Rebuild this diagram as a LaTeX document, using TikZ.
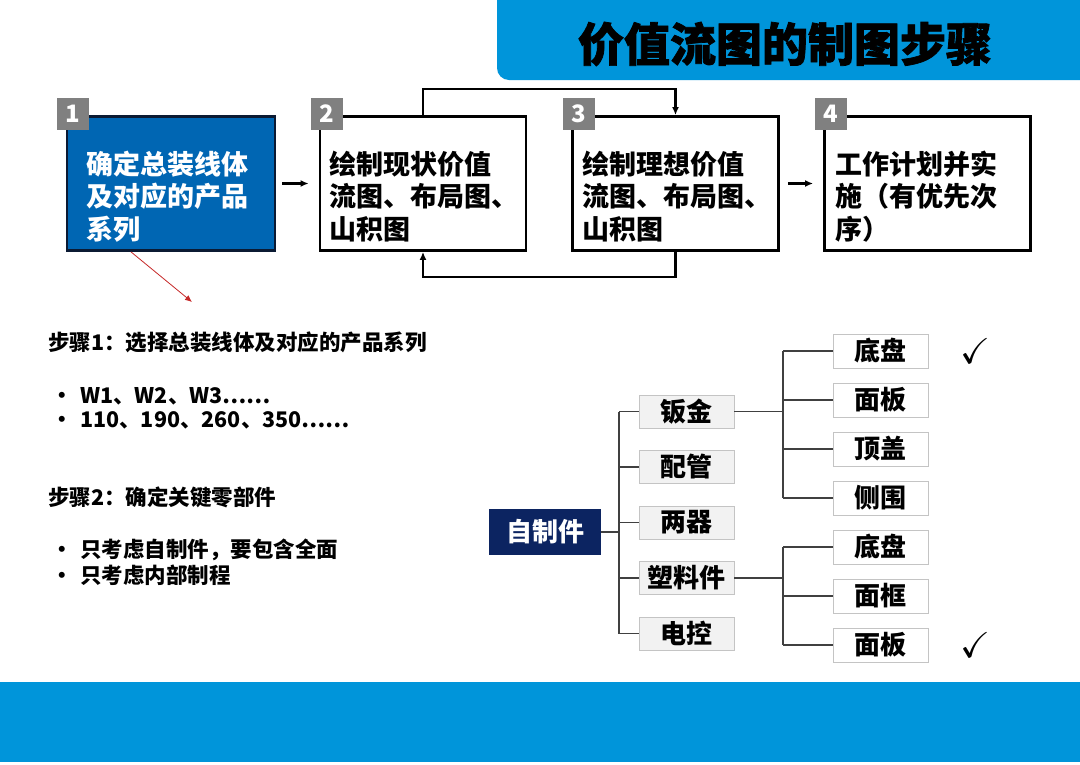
\documentclass[tikz,border=0pt]{standalone}
\usepackage{amssymb}
\usepackage{fontspec}
\setmainfont{Noto Sans CJK SC}
\newfontfamily\titlefont{Noto Sans CJK SC}[BoldFeatures={FakeBold=1.6}]
\usetikzlibrary{positioning,arrows.meta}
\definecolor{bandblue}{HTML}{0095DA}
\definecolor{stepblue}{HTML}{0066B3}
\definecolor{stepnavy}{HTML}{0B1A33}
\definecolor{taggray}{HTML}{808080}
\definecolor{rootnavy}{HTML}{0C2461}
\definecolor{partgray}{HTML}{F2F2F2}
\definecolor{edgegray}{HTML}{C4C4C4}
\definecolor{linkgray}{HTML}{404040}
\definecolor{notered}{HTML}{C62828}

\begin{document}
\begin{tikzpicture}[
    x=1pt, y=-1pt,
    stepbox/.style={rectangle, draw=black, line width=2.8pt, minimum width=206pt,
                    minimum height=134pt, inner sep=0pt},
    steptext/.style={anchor=west, align=left, inner sep=0pt,
                     font=\fontsize{27}{32.5}\selectfont\bfseries},
    steptag/.style={rectangle, fill=taggray, text=white, minimum size=32pt,
                    inner sep=0pt, font=\fontsize{24}{24}\selectfont\bfseries},
    arrow/.style={-{Latex[length=8pt,width=7pt]}, line width=2.7pt},
    notetext/.style={anchor=west, inner sep=0pt, font=\fontsize{21.5}{24}\selectfont\bfseries},
    rootbox/.style={rectangle, fill=rootnavy, text=white, minimum width=112pt,
                    minimum height=46pt, inner sep=0pt, font=\fontsize{26}{26}\selectfont\bfseries},
    partbox/.style={rectangle, draw=edgegray, fill=partgray, line width=0.8pt, minimum width=95pt,
                    minimum height=33pt, inner sep=0pt, font=\fontsize{26}{26}\selectfont\bfseries},
    subbox/.style={partbox, fill=white, minimum height=34pt},
    branch/.style={draw=linkgray, line width=1.4pt},
    checkmark/.style={inner sep=0pt, font=\fontsize{36}{36}\selectfont}
]
\useasboundingbox (0,0) rectangle (1080,764);
\fill[white] (0,0) rectangle (1080,764);

\fill[bandblue] (497,0) -- (497,68) arc[start angle=180, end angle=270, radius=12pt]
    -- (1080,80) -- (1080,0) -- cycle;
\node[font=\titlefont\fontsize{46}{46}\selectfont\bfseries] (title) at (785,44) {价值流图的制图步骤};
\fill[bandblue] (0,682) rectangle (1080,762);

\node[stepbox, fill=stepblue, draw=stepnavy, minimum width=208pt] (s1) at (171,183.5) {};
\node[stepbox] (s2) at (423,183.5) {};
\node[stepbox] (s3) at (675.5,183.5) {};
\node[stepbox] (s4) at (927.5,183.5) {};
\node[steptext, text=white] (l1) at ([shift={(21pt,-13pt)}]s1.west) {确定总装线体\\及对应的产品\\系列};
\node[steptext] (l2) at ([shift={(11pt,-13pt)}]s2.west) {绘制现状价值\\流图、布局图、\\山积图};
\node[steptext] (l3) at ([shift={(11pt,-13pt)}]s3.west) {绘制理想价值\\流图、布局图、\\山积图};
\node[steptext] (l4) at ([shift={(12pt,-13pt)}]s4.west) {工作计划并实\\施（有优先次\\序）};
\node[steptag] (t1) at ([shift={(7pt,1pt)}]s1.north west) {1};
\node[steptag] (t2) at ([shift={(8pt,1pt)}]s2.north west) {2};
\node[steptag] (t3) at ([shift={(8pt,1pt)}]s3.north west) {3};
\node[steptag] (t4) at ([shift={(8pt,1pt)}]s4.north west) {4};

\draw[arrow, shorten <=6pt, shorten >=10pt] (s1) -- (s2);
\draw[arrow, shorten <=8pt, shorten >=10pt] (s3) -- (s4);
\draw[arrow] (s2.north) -- ++(0,-26) -| (s3.north);
\draw[arrow] (s3.south) -- ++(0,25) -| (s2.south);

\coordinate (focus) at (192,302);
\draw[-{Latex[length=7pt,width=6pt]}, draw=notered, line width=0.8pt] ([xshift=-40pt]s1.south) -- (focus);

\node[notetext] (n1) at (48,342) {步骤1：选择总装线体及对应的产品系列};
\node[notetext] (n2) at (51,396) {\makebox[29pt][l]{•}W1、W2、W3……};
\node[notetext] (n3) at (51,420) {\makebox[29pt][l]{•}110、190、260、350……};
\node[notetext] (n4) at (48,497) {步骤2：确定关键零部件};
\node[notetext] (n5) at (51,550) {\makebox[29pt][l]{•}只考虑自制件，要包含全面};
\node[notetext] (n6) at (51,575) {\makebox[29pt][l]{•}只考虑内部制程};

\node[rootbox] (root) at (545,532) {自制件};
\node[partbox] (p1) at (686.5,411.5) {钣金};
\node[partbox, below=21.7pt of p1] (p2) {配管};
\node[partbox, below=21.7pt of p2] (p3) {两器};
\node[partbox, below=21.7pt of p3] (p4) {塑料件};
\node[partbox, below=21.7pt of p4] (p5) {电控};

\node[subbox] (q1) at (880.5,351) {底盘};
\node[subbox, below=14.2pt of q1] (q2) {面板};
\node[subbox, below=14.2pt of q2] (q3) {顶盖};
\node[subbox, below=14.2pt of q3] (q4) {侧围};
\node[subbox, below=14.2pt of q4] (q5) {底盘};
\node[subbox, below=14.2pt of q5] (q6) {面框};
\node[subbox, below=14.2pt of q6] (q7) {面板};

\node[checkmark] (c1) at ([xshift=95pt]q1.center) {$\checkmark$};
\node[checkmark] (c2) at ([xshift=95pt]q7.center) {$\checkmark$};

\coordinate (trunk) at (619,0);
\coordinate (fork) at (783,0);
\draw[branch] (root) -- (root -| trunk);
\draw[branch] (p1 -| trunk) -- (p5 -| trunk);
\foreach \p in {p1,p2,p3,p4,p5}
    \draw[branch] (\p -| trunk) -- (\p.west);
\draw[branch] (p1) -- (p1 -| fork);
\draw[branch] (q1 -| fork) -- (q4 -| fork);
\foreach \q in {q1,q2,q3,q4}
    \draw[branch] (\q -| fork) -- (\q.west);
\draw[branch] (p4) -- (p4 -| fork);
\draw[branch] (q5 -| fork) -- (q7 -| fork);
\foreach \q in {q5,q6,q7}
    \draw[branch] (\q -| fork) -- (\q.west);
\end{tikzpicture}
\end{document}
